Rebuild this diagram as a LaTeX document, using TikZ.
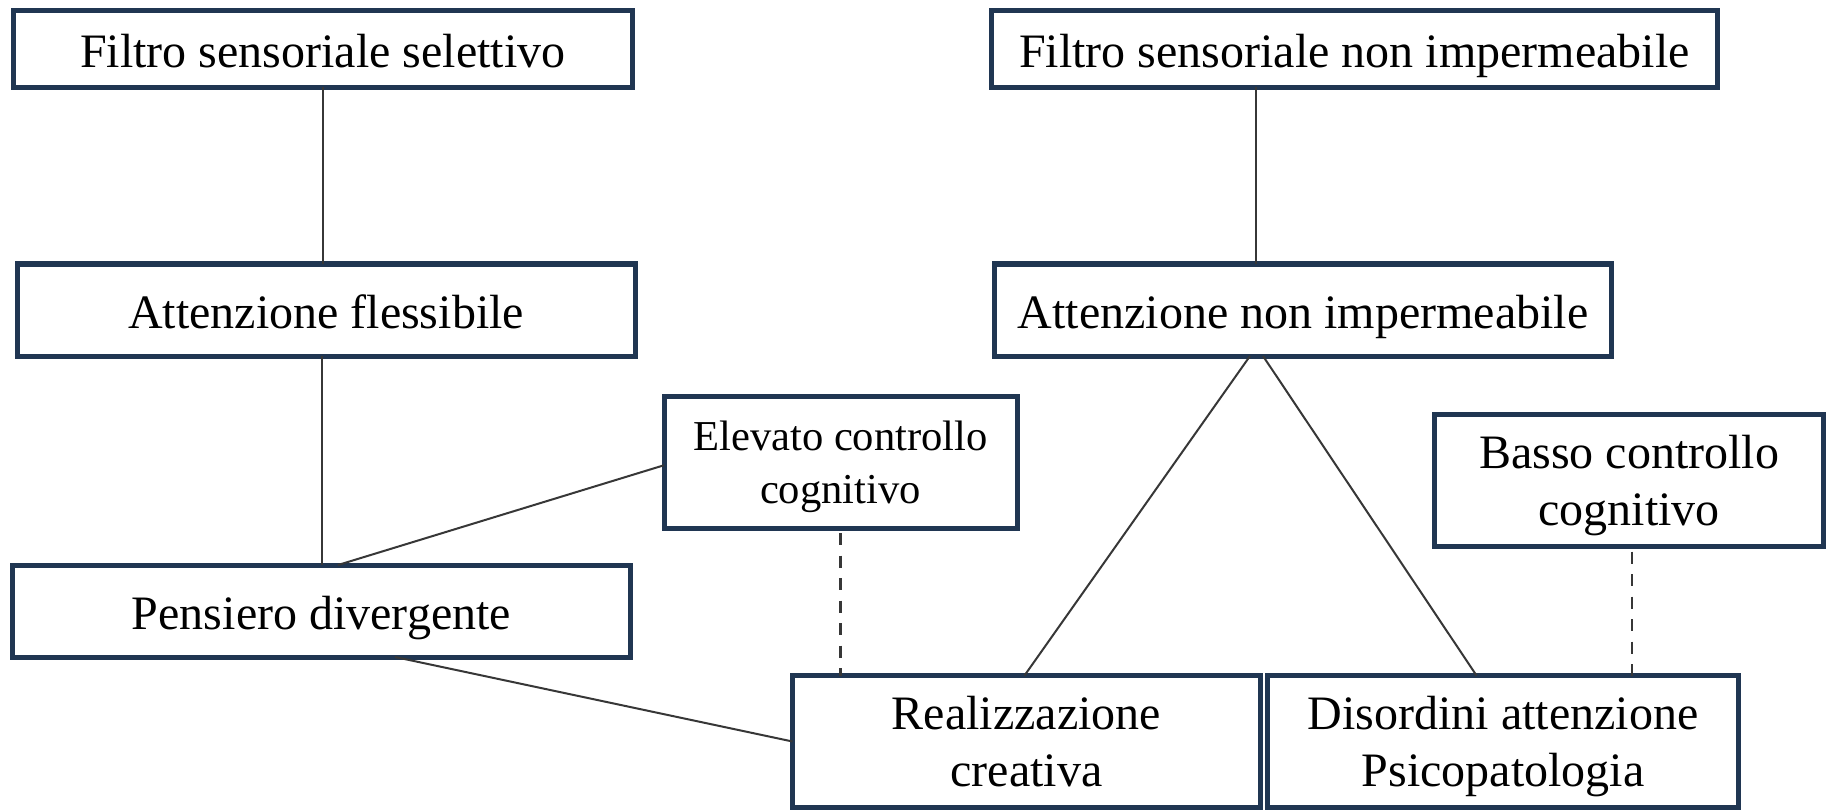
\documentclass[tikz,border=0pt]{standalone}
\usepackage{fontspec}
\setmainfont{Liberation Serif}
\usetikzlibrary{calc}
\definecolor{boxblue}{RGB}{32,54,82}
\definecolor{linegray}{RGB}{55,55,55}
\tikzset{
  cbox/.style={draw=boxblue, line width=5pt, rectangle, inner sep=0pt, outer sep=0pt,
    font=\fontsize{48}{57}\selectfont, text depth=0pt},
  oneline/.style={text height=36pt},
  conn/.style={draw=linegray, line width=2pt},
  dconn/.style={draw=linegray, line width=2.4pt, dash pattern=on 12pt off 10.5pt, dash phase=-5pt}
}
\begin{document}
\begin{tikzpicture}[x=1pt,y=-1pt]
\useasboundingbox (0,0) rectangle (1835,810);
\node[cbox,oneline,minimum width=619.5pt,minimum height=76.5pt] (b1) at (322.75,49.25) {Filtro sensoriale selettivo};
\node[cbox,oneline,minimum width=726pt,minimum height=76.5pt] (b2) at (1354.5,49.25) {Filtro sensoriale non impermeabile};
\node[cbox,oneline,minimum width=618pt,minimum height=92pt] (b3) at (326,310) {Attenzione flessibile};
\node[cbox,oneline,minimum width=617pt,minimum height=92pt] (b4) at (1303,310) {Attenzione non impermeabile};
\node[cbox,align=center,font=\fontsize{42.6}{52.3}\selectfont,minimum width=353pt,minimum height=131.5pt] (b5) at (840.5,462.25) {Elevato controllo\\cognitivo};
\node[cbox,align=center,minimum width=389pt,minimum height=132pt] (b6) at (1629,480.5) {Basso controllo\\cognitivo};
\node[cbox,oneline,minimum width=618pt,minimum height=92pt] (b7) at (321.5,611) {Pensiero divergente};
\node[cbox,align=center,minimum width=468pt,minimum height=132pt] (b8) at (1026.5,741.5) {Realizzazione\\creativa};
\node[cbox,align=center,minimum width=471pt,minimum height=132pt] (b9) at (1503,741.5) {Disordini attenzione\\Psicopatologia};

% solid connectors
\draw[conn] (b1.south) -- (b1.south |- b3.north);
\draw[conn] ([xshift=-98.5pt]b2.south) -- ([xshift=-47pt]b4.north);
\draw[conn] (b7.north |- b3.south) -- (b7.north);
\draw[conn] ([yshift=-3pt]b5.west) -- ([xshift=16.5pt]b7.north);
\draw[conn] ([xshift=73.5pt]b7.south) -- (b8.west);
\draw[conn] ([xshift=-53pt]b4.south) -- ([xshift=-2pt]b8.north);
\draw[conn] ([xshift=-40pt]b4.south) -- ([xshift=-26.5pt]b9.north);
% dashed connectors
\draw[dconn] (b5.south) -- (b5.south |- b8.north);
\coordinate (d6) at ([xshift=2.7pt]b6.south);
\draw[dconn] (d6) -- (d6 |- b9.north);
\end{tikzpicture}
\end{document}
